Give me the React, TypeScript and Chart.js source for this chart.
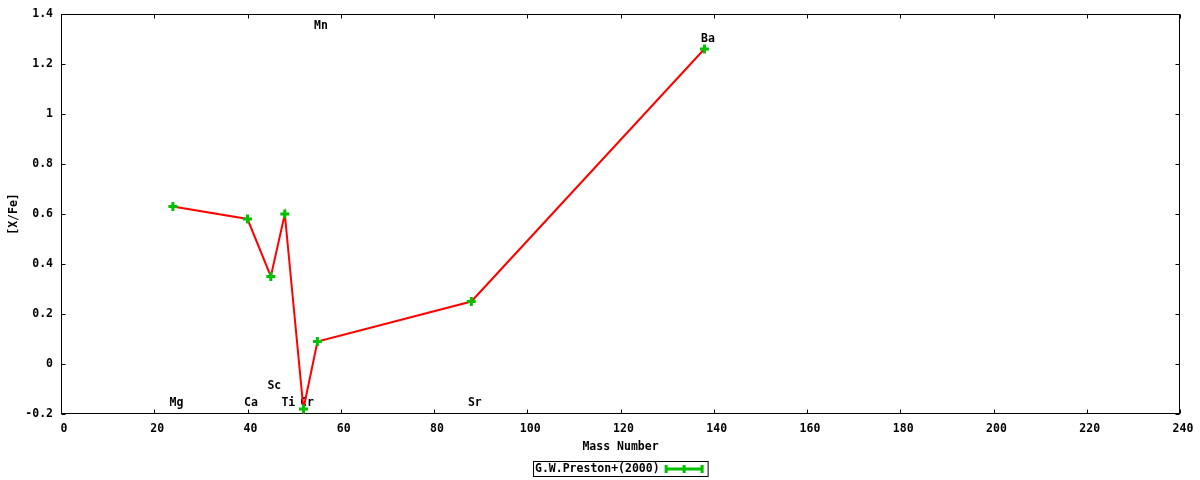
import React, { useEffect, useRef } from "react";
import { Chart, registerables } from "chart.js";

Chart.register(...registerables);

// ---- data ----
const elements = ["Mg", "Ca", "Sc", "Ti", "Cr", "Mn", "Sr", "Ba"];
const massNumbers = [24, 40, 45, 48, 52, 55, 88, 138];
const xFeValues = [0.63, 0.58, 0.35, 0.6, -0.18, 0.09, 0.25, 1.26];
const labelYValues = [-0.155, -0.155, -0.09, -0.155, -0.155, 1.35, -0.155, 1.3];
const seriesName = "G.W.Preston+(2000)";
const xAxisTitle = "Mass Number";
const yAxisTitle = "[X/Fe]";
const xRange = [0, 240];
const yRange = [-0.2, 1.4];
const xStep = 20;
const yStep = 0.2;

const FONT_FAMILY = "'DejaVu Sans Mono', 'Liberation Mono', monospace";
const FONT_SIZE = 11.5;
const GREEN = "#00c000";
const RED = "#ff0000";
const TEXT_NUDGE = 3.5;

const framePlugin = {
  id: "gnuplotFrame",
  beforeDatasetsDraw(chart: any) {
    const { ctx, chartArea, scales } = chart;
    const x = scales.x;
    const y = scales.y;
    ctx.save();
    // element labels (drawn under the points)
    ctx.fillStyle = "#000";
    ctx.font = `bold ${FONT_SIZE}px ${FONT_FAMILY}`;
    ctx.textAlign = "center";
    ctx.textBaseline = "middle";
    elements.forEach((name, i) => {
      const px = x.getPixelForValue(massNumbers[i]) + TEXT_NUDGE;
      const py = y.getPixelForValue(labelYValues[i]);
      ctx.fillText(name, px, py);
    });
    // frame
    ctx.strokeStyle = "#000";
    ctx.lineWidth = 1;
    const l = Math.round(chartArea.left) + 0.5;
    const r = Math.round(chartArea.right) - 0.5;
    const t = Math.round(chartArea.top) + 0.5;
    const b = Math.round(chartArea.bottom) - 0.5;
    ctx.strokeRect(l, t, r - l, b - t);
    // inward ticks on all sides
    const tl = 4;
    ctx.beginPath();
    x.ticks.forEach((tk: any) => {
      const px = Math.round(x.getPixelForValue(tk.value)) + 0.5;
      ctx.moveTo(px, b);
      ctx.lineTo(px, b - tl);
      ctx.moveTo(px, t);
      ctx.lineTo(px, t + tl);
    });
    y.ticks.forEach((tk: any) => {
      const py = Math.round(y.getPixelForValue(tk.value)) + 0.5;
      ctx.moveTo(l, py);
      ctx.lineTo(l + tl, py);
      ctx.moveTo(r, py);
      ctx.lineTo(r - tl, py);
    });
    ctx.stroke();
    ctx.restore();
  },
  afterDraw(chart: any) {
    const { ctx, chartArea } = chart;
    ctx.save();
    const cx = (chartArea.left + chartArea.right) / 2;
    ctx.font = `bold ${FONT_SIZE}px ${FONT_FAMILY}`;
    const textW = ctx.measureText(seriesName).width;
    const sampleW = 36;
    const gap = 8;
    const boxW = textW + gap + sampleW + 6;
    const boxL = Math.round(cx - boxW / 2) + 0.5;
    const boxT = 461.5;
    const boxH = 15;
    ctx.strokeStyle = "#000";
    ctx.lineWidth = 1;
    ctx.strokeRect(boxL, boxT, boxW, boxH);
    ctx.fillStyle = "#000";
    ctx.textAlign = "left";
    ctx.textBaseline = "middle";
    const midY = boxT + boxH / 2;
    ctx.fillText(seriesName, boxL + 1.5, midY + 0.5);
    // sample: errorbar-style line
    const s0 = boxL + textW + gap;
    const s1 = s0 + sampleW;
    const sm = (s0 + s1) / 2;
    ctx.strokeStyle = GREEN;
    ctx.lineWidth = 3;
    ctx.beginPath();
    ctx.moveTo(s0, midY);
    ctx.lineTo(s1, midY);
    [s0, sm, s1].forEach((sx) => {
      ctx.moveTo(sx, midY - 4);
      ctx.lineTo(sx, midY + 4);
    });
    ctx.stroke();
    ctx.restore();
  },
};

export default function App() {
  const canvasRef = useRef<HTMLCanvasElement | null>(null);

  useEffect(() => {
    document.body.style.margin = "0";
    const canvas = canvasRef.current;
    if (!canvas) return;
    Chart.defaults.color = "#000";
    const font = { family: FONT_FAMILY, size: FONT_SIZE, weight: "bold" as const };
    const chart = new Chart(canvas, {
      type: "scatter",
      data: {
        datasets: [
          {
            label: seriesName,
            data: massNumbers.map((m, i) => ({ x: m, y: xFeValues[i] })),
            showLine: true,
            borderColor: RED,
            borderWidth: 2,
            pointStyle: "cross",
            pointRadius: 4.5,
            pointHoverRadius: 4.5,
            pointBorderWidth: 3,
            pointBorderColor: GREEN,
            pointBackgroundColor: GREEN,
          },
        ],
      },
      options: {
        responsive: false,
        animation: false,
        maintainAspectRatio: false,
        layout: { padding: { top: 14, right: 20, left: 0, bottom: 0 } },
        plugins: {
          legend: { display: false },
          tooltip: { enabled: false },
        },
        scales: {
          x: {
            type: "linear",
            min: xRange[0],
            max: xRange[1],
            grid: { display: false, drawTicks: false },
            border: { display: false },
            ticks: {
              stepSize: xStep,
              font,
              color: "#000",
              padding: 8,
              labelOffset: 3,
              maxRotation: 0,
              callback: (v: any) => String(v),
            },
            title: {
              display: true,
              text: xAxisTitle,
              font,
              color: "#000",
              padding: { top: 0, bottom: 26 },
            },
            afterFit: (scale: any) => {
              scale.height = 66;
              scale.paddingLeft = 0;
              scale.paddingRight = 0;
            },
          },
          y: {
            type: "linear",
            min: yRange[0],
            max: yRange[1],
            grid: { display: false, drawTicks: false },
            border: { display: false },
            ticks: {
              stepSize: yStep,
              font,
              color: "#000",
              padding: 8,
              callback: (v: any) => String(Math.round(Number(v) * 10) / 10),
            },
            title: {
              display: true,
              text: yAxisTitle,
              font,
              color: "#000",
              padding: { top: 7, bottom: 0 },
            },
            afterFit: (scale: any) => {
              scale.width = 61;
              scale.paddingTop = 0;
              scale.paddingBottom = 0;
            },
          },
        },
      },
      plugins: [framePlugin],
    });
    return () => chart.destroy();
  }, []);

  return (
    <div style={{ width: 1200, height: 480 }}>
      <canvas ref={canvasRef} width={1200} height={480} style={{ display: "block" }} />
    </div>
  );
}
